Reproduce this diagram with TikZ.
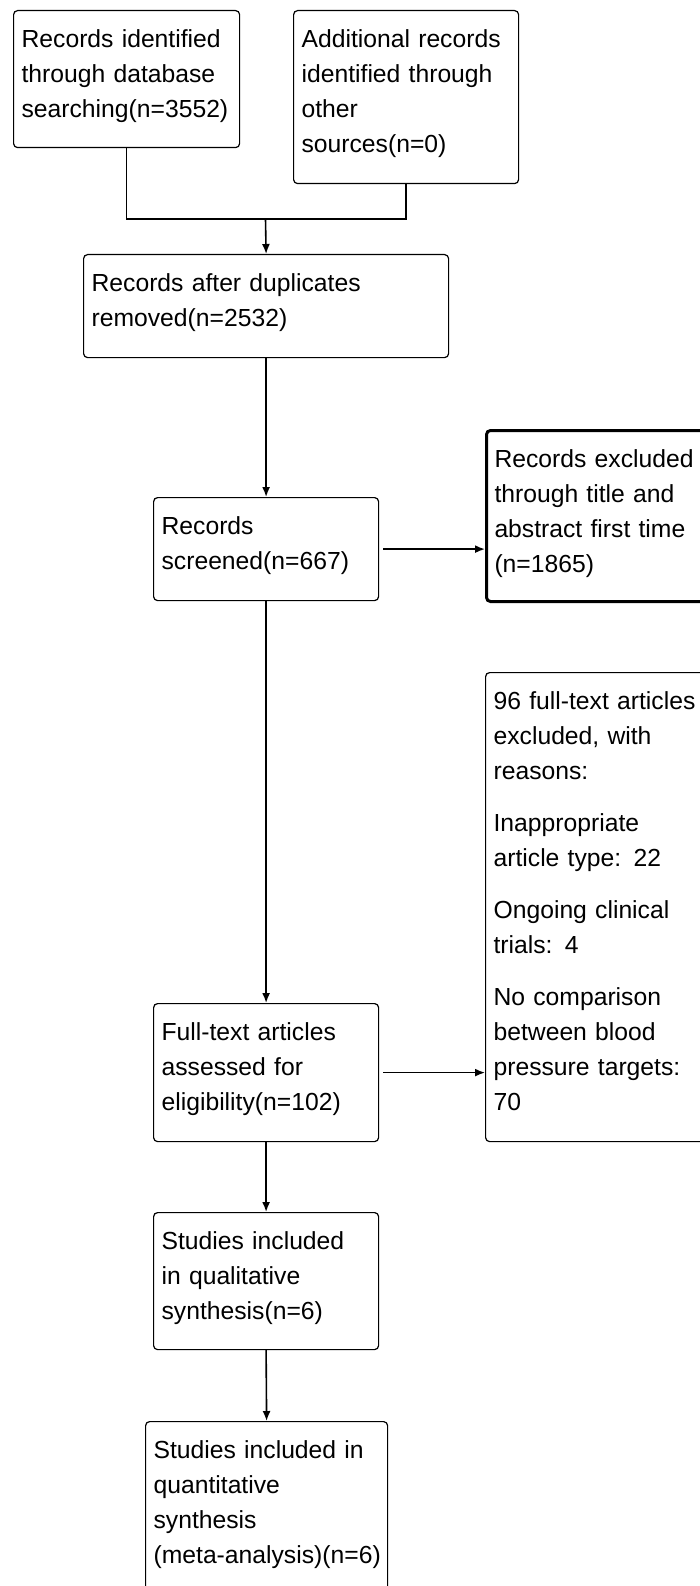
\documentclass[tikz,border=0pt]{standalone}
\usepackage{fontspec}
\setmainfont{Liberation Sans}
\usetikzlibrary{arrows.meta}
\tikzset{stage/.style = {draw, rounded corners = 4pt, line width = 1.2pt, anchor = north west,
                         align = left, inner xsep = 8pt, inner ysep = 19pt, text height = 18pt,
                         font = \fontsize{24.7}{35}\selectfont}}
\tikzset{excl/.style = {stage, line width = 3pt}}
\tikzset{link/.style = {line width = 1.6pt}}
\tikzset{flow/.style = {link, -{Latex[length = 10pt, width = 8pt]}}}

\begin{document}
\begin{tikzpicture}[x = 1pt, y = -1pt]
    \useasboundingbox (0, 0) rectangle (699, 1586);
    \node (ident) at (13, 10) [stage, text width = 210pt, text depth = 81pt]
        {Records identified\\through database\\searching(n=3552)};
    \node (other) at (293, 10) [stage, text width = 209pt, text depth = 117pt]
        {Additional records\\identified through\\other\\sources(n=0)};
    \node (dedup) at (83, 254) [stage, text width = 349pt, text depth = 47pt]
        {Records after duplicates\\removed(n=2532)};
    \node (screen) at (153, 497) [stage, text width = 209pt, text depth = 47pt]
        {Records\\screened(n=667)};
    \node (drop) at (485, 429) [excl, text width = 204pt, text depth = 115pt]
        {Records excluded\\through title and\\abstract first time\\(n=1865)};
    \node (full) at (153, 1003) [stage, text width = 209pt, text depth = 82pt]
        {Full-text articles\\assessed for\\eligibility(n=102)};
    \node (reasons) at (485, 672) [stage, text width = 204pt, text depth = 413pt]
        {96 full-text articles\\excluded, with\\reasons:\\[17pt]
         Inappropriate\\article type: 22\\[17pt]
         Ongoing clinical\\trials: 4\\[17pt]
         No comparison\\between blood\\pressure targets:\\70};
    \node (qual) at (153, 1212) [stage, text width = 209pt, text depth = 81pt]
        {Studies included\\in qualitative\\synthesis(n=6)};
    \node (quant) at (145, 1421) [stage, text width = 226pt, text depth = 134pt]
        {Studies included in\\quantitative\\synthesis\\\mbox{(meta-analysis)(n=6)}};

    % merge of the two sources
    \coordinate (merge) at (265.5, 219);
    \draw [link] (ident.south) |- (merge);
    \draw [link] (other.south) |- (merge);
    \draw [flow] (merge) -- (dedup.north);

    \draw [flow] (dedup.south) -- (screen.north);
    \draw [flow, shorten <= 4pt] (screen.east) -- (screen.east -| drop.west);
    \draw [flow] (screen.south) -- (full.north);
    \draw [flow, shorten <= 4pt] (full.east) -- (full.east -| reasons.west);
    \draw [flow] (full.south) -- (qual.north);
    \draw [flow] (qual.south) -- (quant.north);
\end{tikzpicture}
\end{document}
